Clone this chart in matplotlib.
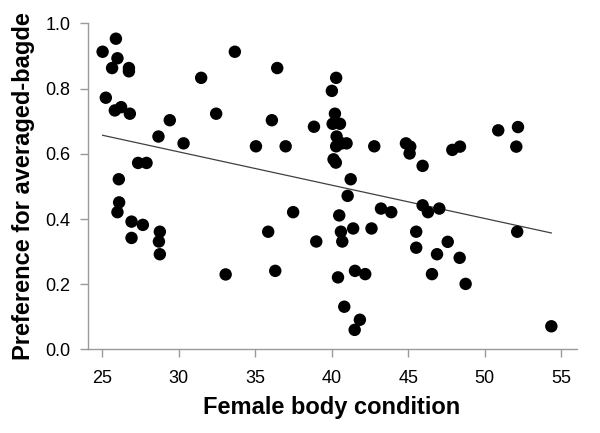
import matplotlib
matplotlib.use("Agg")
import matplotlib.pyplot as plt
import numpy as np

plt.rcParams["font.family"] = ["Liberation Sans", "DejaVu Sans"]

# body condition (x) and preference (y)
body_condition = [
    25.90, 25.03, 26.00, 25.65, 26.75, 26.75, 33.67, 31.47, 25.24, 25.83,
    26.24, 26.81, 32.45, 29.42, 28.68, 30.32, 35.05, 27.35, 27.90, 26.09,
    26.11, 26.00, 26.92, 27.66, 26.92, 28.77, 28.71, 28.77, 33.07, 36.44,
    40.29, 40.01, 36.09, 38.84, 40.21, 40.06, 40.54, 40.32, 40.29, 40.65,
    40.97, 36.99, 42.78, 44.85, 45.13, 45.09, 45.94, 40.12, 40.27, 41.24,
    41.04, 37.48, 40.49, 43.22, 43.89, 45.94, 35.85, 40.60, 41.40, 42.60,
    45.52, 38.99, 40.69, 45.52, 36.31, 40.41, 41.52, 42.19, 40.82, 41.84,
    41.50, 47.88, 48.38, 50.88, 52.17, 52.06, 46.29, 47.03, 52.12, 47.58,
    46.88, 48.36, 46.55, 48.75, 54.35,
]
preference = [
    0.953, 0.913, 0.893, 0.863, 0.863, 0.853, 0.913, 0.833, 0.772, 0.733,
    0.743, 0.723, 0.723, 0.703, 0.653, 0.632, 0.623, 0.572, 0.572, 0.522,
    0.451, 0.421, 0.392, 0.382, 0.342, 0.361, 0.331, 0.292, 0.230, 0.863,
    0.833, 0.793, 0.703, 0.683, 0.723, 0.692, 0.692, 0.653, 0.623, 0.632,
    0.632, 0.623, 0.623, 0.632, 0.622, 0.601, 0.563, 0.583, 0.573, 0.522,
    0.471, 0.421, 0.411, 0.432, 0.421, 0.442, 0.361, 0.361, 0.371, 0.371,
    0.361, 0.331, 0.331, 0.312, 0.241, 0.221, 0.241, 0.231, 0.131, 0.091,
    0.060, 0.612, 0.622, 0.672, 0.682, 0.622, 0.421, 0.432, 0.361, 0.330,
    0.292, 0.281, 0.231, 0.201, 0.071,
]

x_ticks = [25, 30, 35, 40, 45, 50, 55]
y_ticks = [0.0, 0.2, 0.4, 0.6, 0.8, 1.0]

x = np.array(body_condition)
y = np.array(preference)

fig = plt.figure(figsize=(6, 4.33), dpi=100)
ax = fig.add_axes([0.146, 0.193, 0.815, 0.753])

ax.scatter(x, y, s=80, color="black", edgecolors="none", zorder=3, clip_on=False)

# least squares line over the data range
slope, intercept = np.polyfit(x, y, 1)
xl = np.array([x.min(), x.max()])
ax.plot(xl, intercept + slope * xl, color="#404040", linewidth=0.9, zorder=2)

ax.set_xlim(24.05, 56.0)
ax.set_ylim(0, 1)
ax.set_xticks(x_ticks)
ax.set_yticks(y_ticks)
ax.set_yticklabels([f"{v:.1f}" for v in y_ticks])

for side in ["top", "right"]:
    ax.spines[side].set_visible(False)
for side in ["left", "bottom"]:
    ax.spines[side].set_color("#9a9a9a")
    ax.spines[side].set_linewidth(1.0)

ax.tick_params(axis="both", direction="out", length=5.5, width=1.0,
               color="#9a9a9a", labelsize=13, labelcolor="black")
ax.tick_params(axis="x", pad=9)
ax.tick_params(axis="y", pad=7)

ax.set_xlabel("Female body condition", fontsize=17, fontweight="bold", labelpad=7)
ax.set_ylabel("Preference for averaged-bagde", fontsize=17, fontweight="bold", labelpad=7)

fig.savefig("out.png", dpi=100)
